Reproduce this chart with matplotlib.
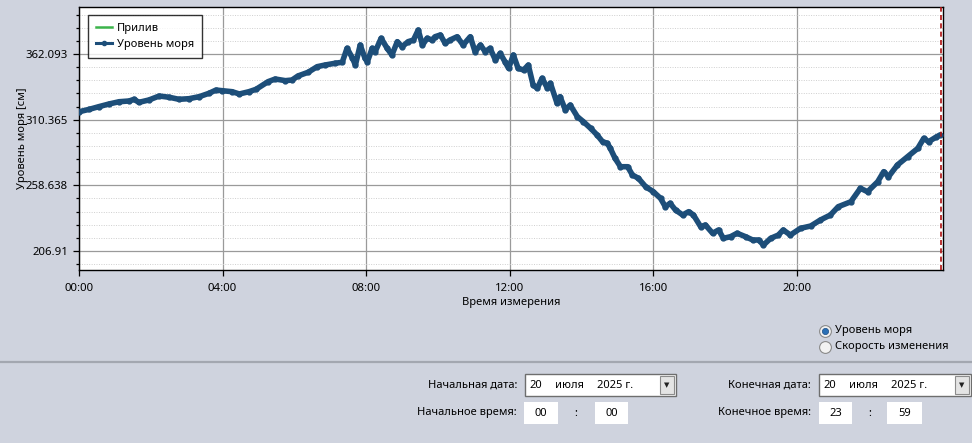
import matplotlib
matplotlib.use("Agg")
import matplotlib.pyplot as plt
from matplotlib.patches import Rectangle
from matplotlib.lines import Line2D

plt.rcParams['font.family'] = ['Noto Sans', 'DejaVu Sans']

# ---------------- data ----------------
minutes = [0, 17, 33, 50, 67, 84, 92, 100, 117, 134, 151, 167, 184, 201, 217, 229, 239, 256, 268, 284,
           296, 316, 328, 345, 356, 366, 383, 398, 411, 428, 440, 448, 457, 462, 470, 478, 482, 490, 495, 505,
           515, 523, 532, 540, 550, 559, 567, 574, 582, 590, 595, 604, 612, 620, 632, 642, 654, 662, 671, 679,
           687, 696, 704, 712, 718, 726, 734, 743, 751, 759, 766, 774, 783, 788, 799, 804, 813, 821, 833, 843,
           855, 866, 875, 883, 888, 896, 905, 917, 925, 935, 947, 960, 972, 980, 988, 997, 1009, 1019, 1027, 1039,
           1047, 1059, 1069, 1077, 1089, 1100, 1114, 1126, 1136, 1144, 1156, 1169, 1177, 1189, 1206, 1223, 1239,
           1256, 1269, 1290, 1306, 1318, 1335, 1345, 1353, 1368, 1385, 1402, 1412, 1420, 1432, 1439]
sea_level = [316.6, 318.5, 320.6, 322.7, 324.5, 325.1, 326.4, 324.0, 325.9, 329.0, 328.0, 326.4, 326.9, 328.5,
             331.1, 333.7, 333.2, 332.4, 330.6, 332.4, 334.3, 340.3, 342.4, 341.1, 341.6, 344.8, 347.7, 352.1,
             353.4, 354.8, 355.6, 366.6, 358.9, 353.4, 369.2, 358.7, 356.0, 366.6, 363.9, 374.5, 366.6, 361.3,
             371.8, 367.8, 371.8, 373.1, 381.0, 369.2, 374.5, 373.1, 375.7, 377.1, 370.5, 373.1, 375.7, 369.2,
             375.7, 363.9, 369.2, 363.9, 366.6, 357.4, 362.6, 356.0, 350.8, 361.3, 350.8, 349.5, 353.4, 337.7,
             335.1, 343.0, 335.1, 339.0, 323.3, 328.5, 318.0, 321.9, 312.7, 308.8, 303.6, 298.3, 293.0, 291.8,
             287.8, 279.9, 273.3, 273.3, 266.8, 264.2, 257.6, 253.6, 248.4, 241.8, 244.5, 239.2, 235.3, 237.9,
             235.3, 226.1, 227.4, 220.9, 223.5, 216.9, 218.2, 220.9, 218.2, 215.6, 215.6, 211.6, 216.9, 219.5,
             223.5, 219.5, 224.8, 226.6, 231.3, 235.3, 241.8, 245.7, 256.3, 253.6, 261.5, 269.4, 265.4, 274.7,
             281.2, 287.8, 295.7, 293.0, 296.5, 298.3]
tide_minutes = []
tide_values = []

x_ticks_hours = [0, 4, 8, 12, 16, 20]
x_tick_labels = ["00:00", "04:00", "08:00", "12:00", "16:00", "20:00"]
y_ticks = [206.91, 258.638, 310.365, 362.093]
y_tick_labels = ["206.91", "258.638", "310.365", "362.093"]
y_limits = (191.94, 399.12)
x_limits_hours = (0, 24.06)
marker_hour = 24.02

legend_labels = ["Прилив", "Уровень моря"]
x_label = "Время измерения"
y_label = "Уровень моря [см]"

# ---------------- figure ----------------
W, H = 972, 443
BG = '#cfd3de'
FS = 8.0
fig = plt.figure(figsize=(W / 100, H / 100), dpi=100, facecolor=BG)

def fx(x):
    return x / W

def fy(y):
    return 1 - y / H

L, T, R, B = 79, 7, 942.7, 270
ax = fig.add_axes([fx(L), fy(B), (R - L) / W, (B - T) / H])
ax.set_facecolor('white')

line_color = '#1d4e79'
tide_color = '#3cb44b'
hours = [m / 60 for m in minutes]
ax.plot([m / 60 for m in tide_minutes], tide_values, color=tide_color, lw=1.8)
ax.plot(hours, sea_level, color=line_color, lw=4.0, marker='o', ms=3.5,
        solid_joinstyle='round', solid_capstyle='round', zorder=3)
ax.axvline(marker_hour, color='#b01010', lw=1.2, ls=(0, (3, 2)), zorder=4)

ax.set_xlim(*x_limits_hours)
ax.set_ylim(*y_limits)
ax.set_xticks(x_ticks_hours)
ax.set_xticklabels(x_tick_labels)
ax.set_yticks(y_ticks)
ax.set_yticklabels(y_tick_labels)
step = (y_ticks[1] - y_ticks[0]) / 5
minors = []
v = y_ticks[0]
while v - step > y_limits[0]:
    v -= step
k = v
while k < y_limits[1]:
    if all(abs(k - t) > 1e-6 for t in y_ticks):
        minors.append(k)
    k += step
ax.set_yticks(minors, minor=True)

ax.grid(True, which='major', color='#9a9a9a', lw=0.9)
ax.grid(True, which='minor', axis='y', color='#cfcfcf', lw=0.7, ls=(0, (1, 1.5)))
ax.set_axisbelow(True)
for s in ax.spines.values():
    s.set_color('black')
    s.set_linewidth(1.0)
ax.tick_params(axis='both', which='major', direction='out', length=4.5, width=0.9,
               labelsize=8.2, pad=3.5, color='black')
ax.tick_params(axis='y', which='minor', direction='out', length=2.3, width=0.9, color='black')
ax.tick_params(axis='x', pad=5)

ax.set_xlabel(x_label, fontsize=FS, labelpad=2)
ax.set_ylabel(y_label, fontsize=FS)
ax.yaxis.set_label_coords((28 - L) / (R - L), 0.5)

handles = [Line2D([], [], color=tide_color, lw=1.8),
           Line2D([], [], color=line_color, lw=2.2, marker='o', ms=3)]
leg = ax.legend(handles, legend_labels, loc='upper left',
                bbox_to_anchor=((88 - L) / (R - L), (B - 15) / (B - T)),
                borderaxespad=0, fontsize=FS, frameon=True, fancybox=False,
                handlelength=1.4, handletextpad=0.45, borderpad=0.75, labelspacing=0.4)
leg.get_frame().set_edgecolor('black')
leg.get_frame().set_linewidth(1.0)

# ---------------- UI elements ----------------
def rect(x0, y0, x1, y1, fc, ec='none', lw=0.0, z=1):
    fig.add_artist(Rectangle((fx(x0), fy(y1)), (x1 - x0) / W, (y1 - y0) / H,
                             transform=fig.transFigure, facecolor=fc, edgecolor=ec, lw=lw, zorder=z))

def txt(x, y, s, ha='left', size=FS, **kw):
    fig.text(fx(x), fy(y), s, ha=ha, va='center', fontsize=size, **kw)

# separator
fig.add_artist(Line2D([0, 1], [fy(362), fy(362)], transform=fig.transFigure, color='#a3a7b0', lw=1.6))

# radio buttons
radio_labels = ["Уровень моря", "Скорость изменения"]
for i, (lab, yy) in enumerate(zip(radio_labels, [331, 347])):
    fig.add_artist(Line2D([fx(825)], [fy(yy)], marker='o', ms=8.5, mfc='#f2f2f2', mec='#8a8a8a',
                          mew=0.8, transform=fig.transFigure))
    if i == 0:
        fig.add_artist(Line2D([fx(825)], [fy(yy)], marker='o', ms=4.5, mfc='#2a6fb5', mec='#1c4f86',
                              mew=0.5, transform=fig.transFigure))
    txt(835, yy, lab)

# date / time controls
row1, row2 = 385, 413
txt(517, row1, "Начальная дата:", ha='right')
txt(811, row1, "Конечная дата:", ha='right')
txt(517, row2, "Начальное время:", ha='right')
txt(811, row2, "Конечное время:", ha='right')

for x0, x1 in [(525, 676), (819, 971)]:
    rect(x0, 374, x1, 396, 'white', '#6e6e6e', 1.0)
    rect(x1 - 16, 376, x1 - 2, 394, '#e4e4e4', '#8c8c8c', 0.8, z=2)
    fig.text(fx(x1 - 9), fy(row1), "▼", ha='center', va='center', fontsize=5,
             family='DejaVu Sans', color='#222222', zorder=3)
    txt(x0 + 4, row1, "20")
    txt(x0 + 30, row1, "июля")
    txt(x0 + 72, row1, "2025 г.")

for (x0, x1), s in zip([(524, 558), (595, 628), (819, 852), (887, 922)], ["00", "00", "23", "59"]):
    rect(x0, 402, x1, 424, 'white')
    txt((x0 + x1) / 2, row2 + 1, s, ha='center')
txt(576, row2, ":", ha='center')
txt(870, row2, ":", ha='center')

fig.savefig("out.png", dpi=100, facecolor=BG)
